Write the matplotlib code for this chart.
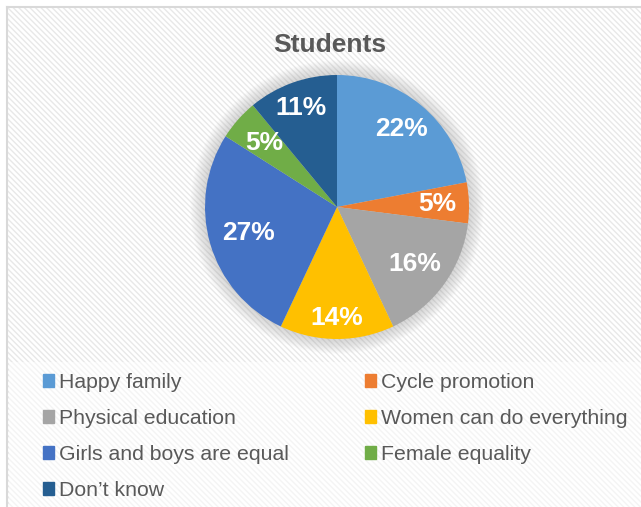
import matplotlib.pyplot as plt
import matplotlib.patches as mpatches
import numpy as np

plt.rcParams['font.family'] = ['Liberation Sans', 'DejaVu Sans']
plt.rcParams['hatch.linewidth'] = 1.0

# data
labels = ['Happy family', 'Cycle promotion', 'Physical education', 'Women can do everything',
          'Girls and boys are equal', 'Female equality', 'Don\u2019t know']
values = [22, 5, 16, 14, 27, 5, 11]
colors = ['#5B9BD5', '#ED7D31', '#A5A5A5', '#FFC000', '#4472C4', '#70AD47', '#255E91']
# how far out each percent label sits (fraction of radius), as in the original
label_dist = [0.77, 0.76, 0.73, 0.84, 0.70, 0.73, 0.80]

W, H = 641, 507
fig = plt.figure(figsize=(W / 100, H / 100), dpi=100)
fig.patch.set_facecolor('white')

# striped background of chart area
bg = mpatches.Rectangle((7 / W, 0), 1, 1 - 7 / H, transform=fig.transFigure,
                        facecolor='white', edgecolor='#e8e8e8', hatch='\\\\\\\\\\\\', lw=0, zorder=-10)
fig.patches.append(bg)
leg_bg = mpatches.Rectangle((9 / W, 0), 1, 1 - 362 / H, transform=fig.transFigure,
                            facecolor='white', edgecolor='#f4f4f4', hatch='\\\\\\\\\\\\', lw=0, zorder=-9)
fig.patches.append(leg_bg)
# border
fig.add_artist(plt.Line2D([7 / W, 1], [1 - 7 / H, 1 - 7 / H], color='#d9d9d9', lw=1.5, zorder=-5))
fig.add_artist(plt.Line2D([7 / W, 7 / W], [0, 1 - 7 / H], color='#d9d9d9', lw=1.5, zorder=-5))

# pie axes
cx, cy, r = 337, 207, 132
lim = 1.2
ax = fig.add_axes([(cx - lim * r) / W, 1 - (cy + lim * r) / H, 2 * lim * r / W, 2 * lim * r / H])
ax.set_facecolor('none')

# soft glow around the pie
for i in range(12):
    ax.add_patch(mpatches.Circle((0, 0), 1.0 + 0.01 * i, color='#888888', alpha=0.03, lw=0, zorder=0))

wedges, texts, autotexts = ax.pie(values, colors=colors, startangle=90, counterclock=False,
                                  autopct=lambda p: f'{p:.0f}%', pctdistance=0.76,
                                  wedgeprops=dict(lw=0, zorder=2),
                                  textprops=dict(color='white', fontsize=19, fontweight='bold'))
for w, t, d in zip(wedges, autotexts, label_dist):
    ang = np.deg2rad((w.theta1 + w.theta2) / 2)
    t.set_position((d * np.cos(ang), d * np.sin(ang)))
    t.set_zorder(3)
ax.set_xlim(-lim, lim)
ax.set_ylim(-lim, lim)
ax.axis('off')

fig.text(330 / W, 1 - 45 / H, 'Students', ha='center', va='center', fontsize=19,
         fontweight='bold', color='#595959')

# legend, filled row by row
handles = [mpatches.Patch(color=c, label=l) for c, l in zip(colors, labels)]
order = [0, 2, 4, 6, 1, 3, 5]
fig.legend([handles[i] for i in order], [labels[i] for i in order], ncol=2,
           loc='upper left', bbox_to_anchor=(43 / W, 1 - 373 / H), frameon=False,
           fontsize=15.3, labelcolor='#595959', handlelength=0.5, handleheight=0.5,
           handletextpad=0.25, columnspacing=3.58, labelspacing=0.8,
           borderpad=0, borderaxespad=0)

fig.savefig('out.png', dpi=100)
